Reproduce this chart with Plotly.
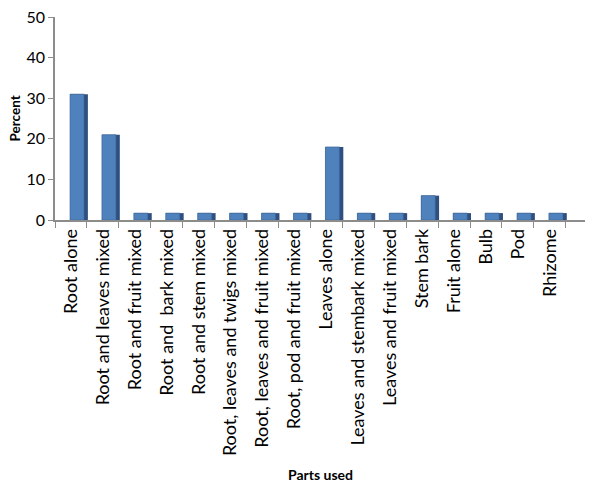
import plotly.graph_objects as go

PARTS = [
    "Root alone",
    "Root and leaves mixed",
    "Root and fruit mixed",
    "Root and  bark mixed",
    "Root and stem mixed",
    "Root, leaves and twigs mixed",
    "Root, leaves and fruit mixed",
    "Root, pod and fruit mixed",
    "Leaves alone",
    "Leaves and stembark mixed",
    "Leaves and fruit mixed",
    "Stem bark",
    "Fruit alone",
    "Bulb",
    "Pod",
    "Rhizome",
]
PERCENT = [31, 21, 1.7, 1.7, 1.7, 1.7, 1.7, 1.7, 18, 1.7, 1.7, 6, 1.7, 1.7, 1.7, 1.7]
Y_TICKS = [0, 10, 20, 30, 40, 50]

FONT = "Lato, Carlito, 'Open Sans', sans-serif"
# the page body adds an 8px margin, so the figure is sized to fit the window
W, H = 592, 479

fig = go.Figure()
# darker side face, drawn first so the front face sits over it
fig.add_trace(go.Bar(
    x=PARTS, y=PERCENT, width=0.56, offset=-0.03,
    marker=dict(color="#2F4F7E", line=dict(width=0)),
    hoverinfo="skip", showlegend=False,
))
fig.add_trace(go.Bar(
    x=PARTS, y=PERCENT, width=0.44, offset=-0.03,
    marker=dict(color="#4F81BD", line=dict(color="#3A6496", width=0.6)),
    showlegend=False,
))

fig.update_layout(
    width=W, height=H,
    barmode="overlay",
    plot_bgcolor="white", paper_bgcolor="white",
    margin=dict(l=47, r=15, t=9, b=267, autoexpand=False),
    font=dict(family=FONT, size=14, color="#000000"),
    annotations=[
        dict(text="<b>Parts used</b>", xref="paper", yref="paper", x=0.5, y=0,
             yanchor="middle", yshift=-254, showarrow=False, font=dict(size=14)),
        dict(text="<b>Percent</b>", xref="paper", yref="paper", x=0, y=0.5,
             xanchor="center", xshift=-41, textangle=-90, showarrow=False,
             font=dict(size=13.5)),
    ],
)
fig.update_xaxes(
    range=[-0.5, 16.1],
    showline=True, linecolor="#8C8C8C", linewidth=1.5,
    ticks="outside", tickson="boundaries", ticklen=6, tickcolor="#8C8C8C",
    tickangle=-90, tickfont=dict(size=18),
    showgrid=False, automargin=False,
)
fig.update_yaxes(
    range=[0, 50], tickvals=Y_TICKS,
    showline=True, linecolor="#8C8C8C", linewidth=1.5,
    ticks="outside", ticklen=5, tickcolor="#8C8C8C",
    tickfont=dict(size=16), ticklabeloverflow="allow",
    showgrid=False, zeroline=False, automargin=False,
)

fig.write_html("out.html")
